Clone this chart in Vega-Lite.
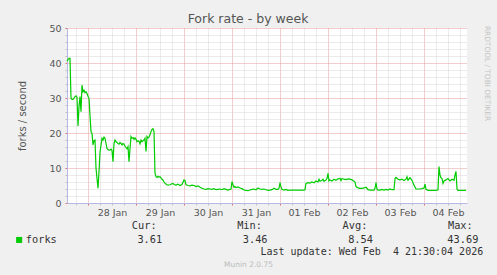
{
"$schema": "https://vega.github.io/schema/vega-lite/v6.json",
"width": 400, "height": 175,
"autosize": {"type": "none"},
"padding": {"left": 67, "top": 28, "right": 30, "bottom": 72},
"background": "#F0F0F0",
"title": {"text": "Fork rate - by week", "font": "DejaVu Sans", "fontSize": 12.5, "fontWeight": "normal", "color": "#555555", "anchor": "middle", "dx": -19, "offset": -2},
"config": {"view": {"fill": "#FFFFFF", "stroke": null}, "font": "DejaVu Sans"},
"data": {"values": [
{"t":"2026-01-27T13:30:00Z","v":40.5},{"t":"2026-01-27T14:00:00Z","v":41.0},{"t":"2026-01-27T14:30:00Z","v":41.3},{"t":"2026-01-27T15:00:00Z","v":41.3},{"t":"2026-01-27T15:30:00Z","v":30.0},{"t":"2026-01-27T16:00:00Z","v":29.6},{"t":"2026-01-27T16:30:00Z","v":29.6},{"t":"2026-01-27T17:00:00Z","v":30.0},{"t":"2026-01-27T17:30:00Z","v":30.4},{"t":"2026-01-27T18:00:00Z","v":30.6},{"t":"2026-01-27T18:30:00Z","v":30.2},{"t":"2026-01-27T19:00:00Z","v":22.0},{"t":"2026-01-27T19:30:00Z","v":27.5},{"t":"2026-01-27T20:00:00Z","v":30.4},{"t":"2026-01-27T20:30:00Z","v":26.1},{"t":"2026-01-27T21:00:00Z","v":33.7},{"t":"2026-01-27T21:30:00Z","v":31.8},{"t":"2026-01-27T22:00:00Z","v":32.2},{"t":"2026-01-27T22:30:00Z","v":31.5},{"t":"2026-01-27T23:00:00Z","v":31.8},{"t":"2026-01-27T23:30:00Z","v":31.3},
{"t":"2026-01-28T00:00:00Z","v":30.5},{"t":"2026-01-28T00:30:00Z","v":29.9},{"t":"2026-01-28T01:00:00Z","v":25.0},{"t":"2026-01-28T01:30:00Z","v":20.4},{"t":"2026-01-28T02:00:00Z","v":19.9},{"t":"2026-01-28T02:30:00Z","v":16.6},{"t":"2026-01-28T03:00:00Z","v":17.8},{"t":"2026-01-28T03:30:00Z","v":18.0},{"t":"2026-01-28T04:00:00Z","v":10.0},{"t":"2026-01-28T04:30:00Z","v":7.0},{"t":"2026-01-28T05:00:00Z","v":4.2},{"t":"2026-01-28T05:30:00Z","v":9.0},{"t":"2026-01-28T06:00:00Z","v":14.5},{"t":"2026-01-28T06:30:00Z","v":16.5},{"t":"2026-01-28T07:00:00Z","v":18.5},{"t":"2026-01-28T07:30:00Z","v":18.0},{"t":"2026-01-28T08:00:00Z","v":18.8},{"t":"2026-01-28T08:30:00Z","v":18.5},{"t":"2026-01-28T09:00:00Z","v":17.0},{"t":"2026-01-28T09:30:00Z","v":15.6},{"t":"2026-01-28T10:00:00Z","v":15.3},{"t":"2026-01-28T10:30:00Z","v":15.1},{"t":"2026-01-28T11:00:00Z","v":15.1},{"t":"2026-01-28T11:30:00Z","v":15.4},{"t":"2026-01-28T12:00:00Z","v":15.0},{"t":"2026-01-28T12:30:00Z","v":11.8},{"t":"2026-01-28T13:00:00Z","v":17.0},{"t":"2026-01-28T13:30:00Z","v":18.0},{"t":"2026-01-28T14:00:00Z","v":17.5},{"t":"2026-01-28T14:30:00Z","v":17.3},{"t":"2026-01-28T15:00:00Z","v":17.0},{"t":"2026-01-28T15:30:00Z","v":16.8},{"t":"2026-01-28T16:00:00Z","v":17.3},{"t":"2026-01-28T16:30:00Z","v":17.0},{"t":"2026-01-28T17:00:00Z","v":16.6},{"t":"2026-01-28T17:30:00Z","v":17.0},{"t":"2026-01-28T18:00:00Z","v":16.8},{"t":"2026-01-28T18:30:00Z","v":16.2},{"t":"2026-01-28T19:00:00Z","v":15.8},{"t":"2026-01-28T19:30:00Z","v":15.5},{"t":"2026-01-28T20:00:00Z","v":16.1},{"t":"2026-01-28T20:30:00Z","v":11.8},{"t":"2026-01-28T21:00:00Z","v":15.5},{"t":"2026-01-28T21:30:00Z","v":19.0},{"t":"2026-01-28T22:00:00Z","v":18.5},{"t":"2026-01-28T22:30:00Z","v":18.7},{"t":"2026-01-28T23:00:00Z","v":18.2},{"t":"2026-01-28T23:30:00Z","v":18.6},
{"t":"2026-01-29T00:00:00Z","v":18.2},{"t":"2026-01-29T00:30:00Z","v":17.5},{"t":"2026-01-29T01:00:00Z","v":17.8},{"t":"2026-01-29T01:30:00Z","v":17.6},{"t":"2026-01-29T02:00:00Z","v":16.9},{"t":"2026-01-29T02:30:00Z","v":18.0},{"t":"2026-01-29T03:00:00Z","v":17.5},{"t":"2026-01-29T03:30:00Z","v":17.8},{"t":"2026-01-29T04:00:00Z","v":18.0},{"t":"2026-01-29T04:30:00Z","v":18.5},{"t":"2026-01-29T05:00:00Z","v":14.7},{"t":"2026-01-29T05:30:00Z","v":19.0},{"t":"2026-01-29T06:00:00Z","v":18.6},{"t":"2026-01-29T06:30:00Z","v":18.8},{"t":"2026-01-29T07:00:00Z","v":19.5},{"t":"2026-01-29T07:30:00Z","v":20.4},{"t":"2026-01-29T08:00:00Z","v":21.0},{"t":"2026-01-29T08:30:00Z","v":21.2},{"t":"2026-01-29T09:00:00Z","v":20.4},{"t":"2026-01-29T09:30:00Z","v":8.5},{"t":"2026-01-29T10:00:00Z","v":7.5},{"t":"2026-01-29T10:30:00Z","v":7.3},{"t":"2026-01-29T11:00:00Z","v":7.6},{"t":"2026-01-29T11:30:00Z","v":7.4},{"t":"2026-01-29T12:00:00Z","v":7.5},{"t":"2026-01-29T12:30:00Z","v":7.2},{"t":"2026-01-29T13:00:00Z","v":6.8},{"t":"2026-01-29T13:30:00Z","v":6.6},{"t":"2026-01-29T14:00:00Z","v":6.0},{"t":"2026-01-29T14:30:00Z","v":5.6},{"t":"2026-01-29T15:00:00Z","v":5.4},{"t":"2026-01-29T15:30:00Z","v":5.2},{"t":"2026-01-29T16:00:00Z","v":5.1},{"t":"2026-01-29T17:00:00Z","v":5.2},{"t":"2026-01-29T18:00:00Z","v":5.5},{"t":"2026-01-29T18:30:00Z","v":5.6},{"t":"2026-01-29T19:00:00Z","v":5.3},{"t":"2026-01-29T20:00:00Z","v":5.1},{"t":"2026-01-29T21:00:00Z","v":5.4},{"t":"2026-01-29T22:00:00Z","v":5.0},{"t":"2026-01-29T23:00:00Z","v":5.3},
{"t":"2026-01-30T00:00:00Z","v":6.6},{"t":"2026-01-30T00:30:00Z","v":6.4},{"t":"2026-01-30T01:00:00Z","v":5.2},{"t":"2026-01-30T02:00:00Z","v":5.0},{"t":"2026-01-30T03:00:00Z","v":4.9},{"t":"2026-01-30T04:00:00Z","v":5.1},{"t":"2026-01-30T05:00:00Z","v":5.0},{"t":"2026-01-30T06:00:00Z","v":4.7},{"t":"2026-01-30T07:00:00Z","v":4.9},{"t":"2026-01-30T08:00:00Z","v":4.5},{"t":"2026-01-30T09:00:00Z","v":4.2},{"t":"2026-01-30T10:00:00Z","v":4.0},{"t":"2026-01-30T11:00:00Z","v":3.9},{"t":"2026-01-30T12:00:00Z","v":4.1},{"t":"2026-01-30T13:00:00Z","v":4.0},{"t":"2026-01-30T14:00:00Z","v":3.9},{"t":"2026-01-30T15:00:00Z","v":4.1},{"t":"2026-01-30T16:00:00Z","v":3.8},{"t":"2026-01-30T17:00:00Z","v":3.9},{"t":"2026-01-30T18:00:00Z","v":4.0},{"t":"2026-01-30T19:00:00Z","v":3.8},{"t":"2026-01-30T20:00:00Z","v":4.1},{"t":"2026-01-30T21:00:00Z","v":3.9},{"t":"2026-01-30T22:00:00Z","v":3.7},{"t":"2026-01-30T23:00:00Z","v":3.9},{"t":"2026-01-30T23:30:00Z","v":4.0},
{"t":"2026-01-31T00:00:00Z","v":6.1},{"t":"2026-01-31T00:30:00Z","v":5.2},{"t":"2026-01-31T01:00:00Z","v":4.5},{"t":"2026-01-31T01:30:00Z","v":4.7},{"t":"2026-01-31T02:00:00Z","v":4.4},{"t":"2026-01-31T03:00:00Z","v":4.6},{"t":"2026-01-31T04:00:00Z","v":4.3},{"t":"2026-01-31T05:00:00Z","v":4.1},{"t":"2026-01-31T06:00:00Z","v":3.7},{"t":"2026-01-31T07:00:00Z","v":3.6},{"t":"2026-01-31T08:00:00Z","v":3.5},{"t":"2026-01-31T09:00:00Z","v":3.7},{"t":"2026-01-31T10:00:00Z","v":3.9},{"t":"2026-01-31T11:00:00Z","v":4.0},{"t":"2026-01-31T12:00:00Z","v":3.8},{"t":"2026-01-31T13:00:00Z","v":4.3},{"t":"2026-01-31T14:00:00Z","v":4.0},{"t":"2026-01-31T15:00:00Z","v":3.9},{"t":"2026-01-31T16:00:00Z","v":4.0},{"t":"2026-01-31T17:00:00Z","v":3.8},{"t":"2026-01-31T18:00:00Z","v":3.6},{"t":"2026-01-31T19:00:00Z","v":3.7},{"t":"2026-01-31T20:00:00Z","v":3.8},{"t":"2026-01-31T21:00:00Z","v":4.2},{"t":"2026-01-31T22:00:00Z","v":3.9},{"t":"2026-01-31T23:00:00Z","v":3.9},{"t":"2026-01-31T23:30:00Z","v":4.2},
{"t":"2026-02-01T00:00:00Z","v":5.8},{"t":"2026-02-01T00:30:00Z","v":4.6},{"t":"2026-02-01T01:00:00Z","v":3.9},{"t":"2026-02-01T02:00:00Z","v":3.7},{"t":"2026-02-01T03:00:00Z","v":3.9},{"t":"2026-02-01T04:00:00Z","v":3.6},{"t":"2026-02-01T05:00:00Z","v":3.7},{"t":"2026-02-01T06:00:00Z","v":3.7},{"t":"2026-02-01T07:00:00Z","v":3.7},{"t":"2026-02-01T08:00:00Z","v":3.7},{"t":"2026-02-01T09:00:00Z","v":3.7},{"t":"2026-02-01T10:00:00Z","v":3.7},{"t":"2026-02-01T11:00:00Z","v":3.7},{"t":"2026-02-01T12:00:00Z","v":3.7},{"t":"2026-02-01T12:30:00Z","v":3.8},{"t":"2026-02-01T13:00:00Z","v":5.6},{"t":"2026-02-01T14:00:00Z","v":5.8},{"t":"2026-02-01T15:00:00Z","v":5.7},{"t":"2026-02-01T16:00:00Z","v":6.0},{"t":"2026-02-01T17:00:00Z","v":5.8},{"t":"2026-02-01T18:00:00Z","v":6.3},{"t":"2026-02-01T19:00:00Z","v":6.0},{"t":"2026-02-01T19:30:00Z","v":6.8},{"t":"2026-02-01T20:00:00Z","v":6.2},{"t":"2026-02-01T21:00:00Z","v":6.5},{"t":"2026-02-01T21:30:00Z","v":6.8},{"t":"2026-02-01T22:00:00Z","v":6.2},{"t":"2026-02-01T23:00:00Z","v":6.6},{"t":"2026-02-01T23:30:00Z","v":7.0},
{"t":"2026-02-02T00:00:00Z","v":8.5},{"t":"2026-02-02T00:30:00Z","v":6.3},{"t":"2026-02-02T01:00:00Z","v":6.6},{"t":"2026-02-02T02:00:00Z","v":6.3},{"t":"2026-02-02T03:00:00Z","v":6.8},{"t":"2026-02-02T04:00:00Z","v":6.5},{"t":"2026-02-02T05:00:00Z","v":6.9},{"t":"2026-02-02T06:00:00Z","v":7.0},{"t":"2026-02-02T06:30:00Z","v":6.4},{"t":"2026-02-02T07:00:00Z","v":7.0},{"t":"2026-02-02T08:00:00Z","v":6.8},{"t":"2026-02-02T09:00:00Z","v":6.7},{"t":"2026-02-02T10:00:00Z","v":6.9},{"t":"2026-02-02T11:00:00Z","v":6.8},{"t":"2026-02-02T12:00:00Z","v":6.6},{"t":"2026-02-02T13:00:00Z","v":6.2},{"t":"2026-02-02T13:30:00Z","v":6.0},{"t":"2026-02-02T14:00:00Z","v":4.7},{"t":"2026-02-02T15:00:00Z","v":4.3},{"t":"2026-02-02T16:00:00Z","v":4.2},{"t":"2026-02-02T17:00:00Z","v":4.2},{"t":"2026-02-02T18:00:00Z","v":4.3},{"t":"2026-02-02T19:00:00Z","v":4.5},{"t":"2026-02-02T20:00:00Z","v":3.8},{"t":"2026-02-02T21:00:00Z","v":3.7},{"t":"2026-02-02T22:00:00Z","v":3.7},{"t":"2026-02-02T23:00:00Z","v":3.7},{"t":"2026-02-02T23:30:00Z","v":4.2},
{"t":"2026-02-03T00:00:00Z","v":5.8},{"t":"2026-02-03T00:30:00Z","v":4.0},{"t":"2026-02-03T01:00:00Z","v":3.7},{"t":"2026-02-03T02:00:00Z","v":3.7},{"t":"2026-02-03T03:00:00Z","v":3.9},{"t":"2026-02-03T04:00:00Z","v":3.7},{"t":"2026-02-03T05:00:00Z","v":3.9},{"t":"2026-02-03T06:00:00Z","v":3.7},{"t":"2026-02-03T07:00:00Z","v":4.0},{"t":"2026-02-03T08:00:00Z","v":3.8},{"t":"2026-02-03T09:00:00Z","v":3.8},{"t":"2026-02-03T09:30:00Z","v":7.0},{"t":"2026-02-03T10:00:00Z","v":7.3},{"t":"2026-02-03T11:00:00Z","v":6.8},{"t":"2026-02-03T12:00:00Z","v":6.6},{"t":"2026-02-03T13:00:00Z","v":6.8},{"t":"2026-02-03T14:00:00Z","v":6.4},{"t":"2026-02-03T15:00:00Z","v":6.8},{"t":"2026-02-03T15:30:00Z","v":7.5},{"t":"2026-02-03T16:00:00Z","v":6.5},{"t":"2026-02-03T17:00:00Z","v":7.2},{"t":"2026-02-03T18:00:00Z","v":6.5},{"t":"2026-02-03T19:00:00Z","v":5.1},{"t":"2026-02-03T20:00:00Z","v":4.0},{"t":"2026-02-03T21:00:00Z","v":4.0},{"t":"2026-02-03T22:00:00Z","v":4.0},{"t":"2026-02-03T23:00:00Z","v":4.1},
{"t":"2026-02-04T00:00:00Z","v":4.3},{"t":"2026-02-04T00:30:00Z","v":5.4},{"t":"2026-02-04T01:00:00Z","v":3.9},{"t":"2026-02-04T02:00:00Z","v":3.6},{"t":"2026-02-04T03:00:00Z","v":3.6},{"t":"2026-02-04T04:00:00Z","v":3.6},{"t":"2026-02-04T05:00:00Z","v":3.6},{"t":"2026-02-04T06:00:00Z","v":3.6},{"t":"2026-02-04T07:00:00Z","v":3.8},{"t":"2026-02-04T07:30:00Z","v":10.4},{"t":"2026-02-04T08:00:00Z","v":8.0},{"t":"2026-02-04T08:30:00Z","v":7.2},{"t":"2026-02-04T09:00:00Z","v":7.0},{"t":"2026-02-04T09:30:00Z","v":5.6},{"t":"2026-02-04T10:00:00Z","v":6.3},{"t":"2026-02-04T11:00:00Z","v":6.6},{"t":"2026-02-04T12:00:00Z","v":7.0},{"t":"2026-02-04T13:00:00Z","v":6.3},{"t":"2026-02-04T14:00:00Z","v":6.8},{"t":"2026-02-04T15:00:00Z","v":6.5},{"t":"2026-02-04T15:30:00Z","v":8.0},{"t":"2026-02-04T16:00:00Z","v":9.0},{"t":"2026-02-04T16:30:00Z","v":4.0},{"t":"2026-02-04T17:00:00Z","v":3.6},{"t":"2026-02-04T18:00:00Z","v":3.6},{"t":"2026-02-04T19:00:00Z","v":3.6},{"t":"2026-02-04T20:00:00Z","v":3.6},{"t":"2026-02-04T21:00:00Z","v":3.6}
]},
"layer": [
{"mark": {"type": "line", "strokeWidth": 1.2},
 "encoding": {
  "x": {"field": "t", "type": "temporal",
   "scale": {"type": "utc", "domain": [1769520600000, 1770240600000]},
   "axis": {"orient": "bottom",
    "values": [1769536800000,1769558400000,1769580000000,1769601600000,1769623200000,1769644800000,1769666400000,1769688000000,1769709600000,1769731200000,1769752800000,1769774400000,1769796000000,1769817600000,1769839200000,1769860800000,1769882400000,1769904000000,1769925600000,1769947200000,1769968800000,1769990400000,1770012000000,1770033600000,1770055200000,1770076800000,1770098400000,1770120000000,1770141600000,1770163200000,1770184800000,1770206400000,1770228000000],
    "grid": true, "gridDash": [1,1],
    "gridColor": {"condition": {"test": "utchours(datum.value)===0", "value": "#E89A9A"}, "value": "#D6D6D6"},
    "tickColor": {"condition": {"test": "utchours(datum.value)===0", "value": "#E07070"}, "value": "#C0C0C0"},
    "tickSize": 2, "domainColor": "#B8B8E8",
    "labelExpr": "utchours(datum.value)===12 ? utcFormat(datum.value,'%d %b') : ''",
    "labelFont": "DejaVu Sans", "labelFontSize": 9.5, "labelColor": "#555555", "labelPadding": 2, "labelFlush": false, "labelOverlap": false,
    "title": "Last update: Wed Feb\u00a0 4 21:30:04 2026", "titleFont": "DejaVu Sans Mono", "titleFontSize": 10, "titleFontWeight": "normal", "titleColor": "#333333",
    "titleX": 415.7, "titleY": 48.7, "titleAlign": "right", "titleBaseline": "middle"}},
  "y": {"field": "v", "type": "quantitative", "scale": {"domain": [0, 50], "nice": false},
   "axis": {"orient": "left", "values": [0,2,4,6,8,10,12,14,16,18,20,22,24,26,28,30,32,34,36,38,40,42,44,46,48,50],
    "grid": true, "gridDash": [1,1],
    "gridColor": {"condition": {"test": "datum.value % 10 === 0", "value": "#E89A9A"}, "value": "#D6D6D6"},
    "tickColor": {"condition": {"test": "datum.value % 10 === 0", "value": "#E07070"}, "value": "#C0C0C0"},
    "tickSize": 2, "domainColor": "#B8B8E8",
    "labelExpr": "datum.value % 10 === 0 ? datum.label : ''",
    "labelFont": "DejaVu Sans", "labelFontSize": 9.5, "labelColor": "#555555", "labelPadding": 4, "labelOverlap": false,
    "title": "forks / second", "titleFont": "DejaVu Sans", "titleFontSize": 10, "titleFontWeight": "normal", "titleColor": "#555555",
    "titleX": -45, "titleY": 87.5, "titleAngle": 270, "titleAlign": "center", "titleBaseline": "middle"}},
  "color": {"datum": "forks", "scale": {"range": ["#00CC00"]},
   "legend": {"orient": "none", "legendX": -53, "legendY": 193, "padding": 0,
    "title": "\u200b\u00a0\u00a0\u00a0\u00a0\u00a0\u00a0\u00a0\u00a0\u00a0\u00a0\u00a0\u00a0\u00a0\u00a0\u00a0\u00a0\u00a0\u00a0\u00a0Cur:\u00a0\u00a0\u00a0\u00a0\u00a0\u00a0\u00a0\u00a0\u00a0\u00a0\u00a0\u00a0\u00a0Min:\u00a0\u00a0\u00a0\u00a0\u00a0\u00a0\u00a0\u00a0\u00a0\u00a0\u00a0\u00a0\u00a0Avg:\u00a0\u00a0\u00a0\u00a0\u00a0\u00a0\u00a0\u00a0\u00a0\u00a0\u00a0\u00a0\u00a0Max:",
    "titleFont": "DejaVu Sans Mono", "titleFontSize": 10.3, "titleFontWeight": "normal", "titleColor": "#333333", "titleLimit": 600, "titlePadding": 3.5,
    "symbolType": "square", "symbolSize": 36, "symbolFillColor": "#00CC00", "symbolStrokeWidth": 0,
    "labelFont": "DejaVu Sans Mono", "labelFontSize": 10.3, "labelColor": "#333333", "labelLimit": 600, "labelOffset": 1.5,
    "labelExpr": "'forks\u00a0\u00a0\u00a0\u00a0\u00a0\u00a0\u00a0\u00a0\u00a0\u00a0\u00a0\u00a0\u00a03.61\u00a0\u00a0\u00a0\u00a0\u00a0\u00a0\u00a0\u00a0\u00a0\u00a0\u00a0\u00a0\u00a03.46\u00a0\u00a0\u00a0\u00a0\u00a0\u00a0\u00a0\u00a0\u00a0\u00a0\u00a0\u00a0\u00a08.54\u00a0\u00a0\u00a0\u00a0\u00a0\u00a0\u00a0\u00a0\u00a0\u00a0\u00a0\u00a043.69'"}}
 }},
{"mark": {"type": "line", "opacity": 0},
 "encoding": {
  "x": {"field": "t", "type": "temporal",
   "axis": {"orient": "bottom", "domain": false, "ticks": false, "labels": false, "grid": false,
    "title": "Munin 2.0.75", "titleFont": "DejaVu Sans", "titleFontSize": 7.5, "titleFontWeight": "normal", "titleColor": "#BBBBBB",
    "titleX": 181, "titleY": 61, "titleAlign": "center", "titleBaseline": "middle"}},
  "y": {"field": "v", "type": "quantitative",
   "axis": {"orient": "right", "domain": false, "ticks": false, "labels": false, "grid": false,
    "title": "RRDTOOL / TOBI OETIKER", "titleFont": "DejaVu Sans", "titleFontSize": 7.4, "titleFontWeight": "normal", "titleColor": "#C4C4C4",
    "titleX": 19.5, "titleY": 45, "titleAngle": 90, "titleAlign": "center", "titleBaseline": "middle"}}
 }}
],
"resolve": {"axis": {"x": "independent", "y": "independent"}}
}
